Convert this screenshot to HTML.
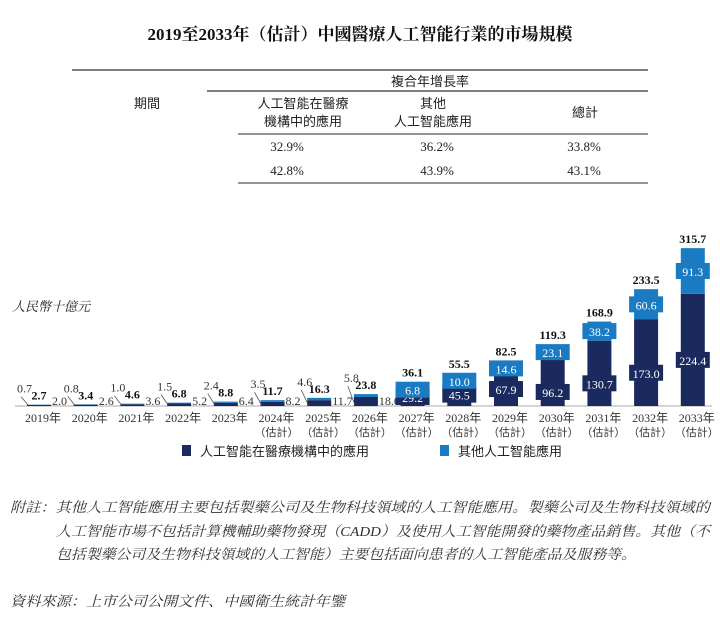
<!DOCTYPE html>
<html><head><meta charset="utf-8">
<style>
html,body{margin:0;padding:0;background:#fff;}
svg{display:block;}
.cjk{font-family:"Liberation Sans","Noto Sans CJK TC",sans-serif;}
.ser{font-family:"Liberation Serif","Noto Serif CJK SC",serif;}
</style></head>
<body>
<svg id="chart" width="720" height="617" viewBox="0 0 720 617" xmlns="http://www.w3.org/2000/svg">
<text x="360" y="40" text-anchor="middle" class="ser" font-size="17" font-weight="bold" fill="#111">2019至2033年（估計）中國醫療人工智能行業的市場規模</text>
<g fill="#222">
<line x1="72" y1="70" x2="648" y2="70" stroke="#555" stroke-width="1.5"/>
<line x1="207" y1="91" x2="648" y2="91" stroke="#555" stroke-width="1.5"/>
<line x1="238" y1="134" x2="648" y2="134" stroke="#555" stroke-width="1.2"/>
<line x1="238" y1="183" x2="648" y2="183" stroke="#555" stroke-width="1.2"/>
<text x="430" y="86" text-anchor="middle" class="cjk" font-size="13">複合年增長率</text>
<text x="147" y="108" text-anchor="middle" class="cjk" font-size="13">期間</text>
<text x="303" y="108" text-anchor="middle" class="cjk" font-size="13">人工智能在醫療</text>
<text x="303" y="126" text-anchor="middle" class="cjk" font-size="13">機構中的應用</text>
<text x="433" y="108" text-anchor="middle" class="cjk" font-size="13">其他</text>
<text x="433" y="126" text-anchor="middle" class="cjk" font-size="13">人工智能應用</text>
<text x="585" y="117" text-anchor="middle" class="cjk" font-size="13">總計</text>
<text x="287" y="151" text-anchor="middle" class="ser" font-size="13">32.9%</text>
<text x="437" y="151" text-anchor="middle" class="ser" font-size="13">36.2%</text>
<text x="584" y="151" text-anchor="middle" class="ser" font-size="13">33.8%</text>
<text x="287" y="175" text-anchor="middle" class="ser" font-size="13">42.8%</text>
<text x="437" y="175" text-anchor="middle" class="ser" font-size="13">43.9%</text>
<text x="584" y="175" text-anchor="middle" class="ser" font-size="13">43.1%</text>
</g>
<text x="12" y="311" class="ser" font-size="13" font-style="italic" fill="#222">人民幣十億元</text>
<line x1="15" y1="406" x2="712" y2="406" stroke="#aaa" stroke-width="1"/>
<g id="bars"></g>
<g>
<rect x="182" y="445" width="9" height="11" fill="#1b2a5e"/>
<text x="200" y="456" class="cjk" font-size="13" fill="#222">人工智能在醫療機構中的應用</text>
<rect x="440" y="445" width="9" height="11" fill="#1a7ac2"/>
<text x="458" y="456" class="cjk" font-size="13" fill="#222">其他人工智能應用</text>
</g>
<g class="ser" font-size="14" font-style="italic" fill="#333">
<text x="10" y="512" textLength="700" lengthAdjust="spacingAndGlyphs">附註：其他人工智能應用主要包括製藥公司及生物科技領域的人工智能應用。製藥公司及生物科技領域的</text>
<text x="56" y="536" textLength="654" lengthAdjust="spacingAndGlyphs">人工智能市場不包括計算機輔助藥物發現（CADD）及使用人工智能開發的藥物產品銷售。其他（不</text>
<text x="56" y="559" textLength="580" lengthAdjust="spacingAndGlyphs">包括製藥公司及生物科技領域的人工智能）主要包括面向患者的人工智能產品及服務等。</text>
</g>
<text x="10" y="606" class="ser" font-size="14" font-style="italic" fill="#333" textLength="335" lengthAdjust="spacingAndGlyphs">資料來源：上市公司公開文件、中國衛生統計年鑒</text>
</svg>
<script>
const years = ["2019年","2020年","2021年","2022年","2023年","2024年","2025年","2026年","2027年","2028年","2029年","2030年","2031年","2032年","2033年"];
const estimated = [false,false,false,false,false,true,true,true,true,true,true,true,true,true,true];
const medical = [2.0,2.6,3.6,5.2,6.4,8.2,11.7,18.0,29.2,45.5,67.9,96.2,130.7,173.0,224.4];
const other = [0.7,0.8,1.0,1.5,2.4,3.5,4.6,5.8,6.8,10.0,14.6,23.1,38.2,60.6,91.3];
const totals = ["2.7","3.4","4.6","6.8","8.8","11.7","16.3","23.8","36.1","55.5","82.5","119.3","168.9","233.5","315.7"];

const NS="http://www.w3.org/2000/svg";
const g=document.getElementById('bars');
const baseY=406, scale=0.5, x0=43, step=46.7;
function xPos(i){return x0+step*i;}
function yPos(v){return baseY-v*scale;}
function mk(tag,attrs,parent){const e=document.createElementNS(NS,tag);for(const k in attrs)e.setAttribute(k,attrs[k]);(parent||g).appendChild(e);return e;}
function txt(x,y,s,attrs){const t=mk('text',Object.assign({x:x,y:y},attrs));t.textContent=s;return t;}
const SER='"Liberation Serif","Noto Serif CJK SC",serif';
for(let i=0;i<years.length;i++){
  const cx=xPos(i), bc=cx-4, w=24;
  const ym=yPos(medical[i]), yt=yPos(medical[i]+other[i]);
  const r1=mk('rect',{x:bc-w/2,y:ym,width:w,height:baseY-ym,fill:'#1b2a5e'});
  
  
  const r2=mk('rect',{x:bc-w/2,y:yt,width:w,height:ym-yt,fill:'#1a7ac2'});
  
  
  const yl=txt(cx,422,years[i],{'text-anchor':'middle','font-family':'"Liberation Serif","Noto Sans CJK TC",serif','font-size':12,fill:'#333'});
  
  
  if(estimated[i]){txt(cx,436,'（估計）',{'text-anchor':'middle','font-family':'"Liberation Sans","Noto Sans CJK TC",sans-serif','font-size':11,fill:'#333'});}
  if(i<8){
    txt(bc-22,yt-12,other[i].toFixed(1),{'font-family':SER,'font-size':12,fill:'#333'});
    mk('line',{x1:bc-18,y1:yt-8,x2:bc-11,y2:baseY-1,stroke:'#555','stroke-width':0.8});
    txt(bc,yt-5,totals[i],{'text-anchor':'middle','font-family':SER,'font-size':12,'font-weight':'bold',fill:'#111'});
    txt(bc+w/2+1,baseY-1,medical[i].toFixed(1),{'font-family':SER,'font-size':12,fill:'#333'});
  } else {
    const bw=34,bh=16;
    const my=Math.min(baseY-bh/2-1,(ym+baseY)/2+ (i>=11?10:0));
    mk('rect',{x:bc-bw/2,y:my-bh/2,width:bw,height:bh,fill:'#1b2a5e'});
    txt(bc,my+5,medical[i].toFixed(1),{'text-anchor':'middle','font-family':SER,'font-size':12,fill:'#fff'});
    const oy=(yt+ym)/2;
    mk('rect',{x:bc-bw/2,y:oy-bh/2,width:bw,height:bh,fill:'#1a7ac2'});
    txt(bc,oy+5,other[i].toFixed(1),{'text-anchor':'middle','font-family':SER,'font-size':12,fill:'#fff'});
    const tl=txt(bc,Math.min(yt,oy-bh/2)-5,totals[i],{'text-anchor':'middle','font-family':SER,'font-size':12,'font-weight':'bold',fill:'#111'});
    
    
  }
}
</script>
</body></html>
